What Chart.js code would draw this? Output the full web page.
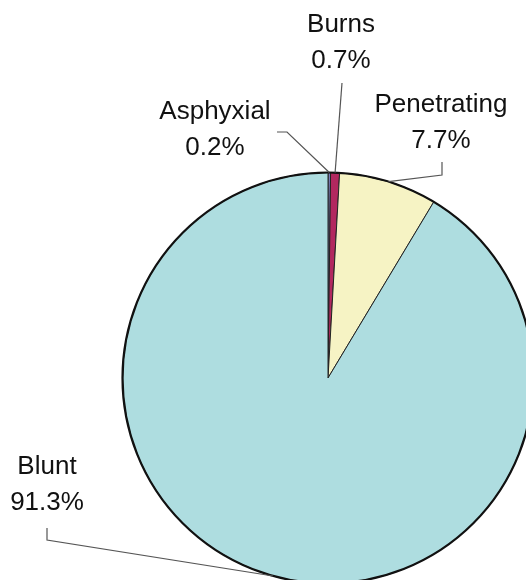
<!DOCTYPE html>
<html>
<head>
<meta charset="utf-8">
<script src="https://cdn.jsdelivr.net/npm/chart.js@4"></script>
<style>
    html, body { margin: 0; padding: 0; background: #fff; overflow: hidden; }
    #wrap { width: 560px; height: 600px; }
</style>
</head>
<body>
<div id="wrap"><canvas id="pie" width="560" height="600"></canvas></div>
<script>
const categories = ["Asphyxial", "Burns", "Penetrating", "Blunt"];
const shares = [0.2, 0.7, 7.7, 91.3];
const valueLabels = ["0.2%", "0.7%", "7.7%", "91.3%"];

const sliceColors = ["#7b7db9", "#b2285f", "#f6f3c4", "#aedde0"];

// where each label sits and where its leader line starts (elbow points)
const labelLayout = [
    { x: 215, y: 112, path: [[277, 132], [287, 132]] },
    { x: 341, y: 25, path: [[342, 83]] },
    { x: 441, y: 105, path: [[442, 162], [442, 175]] },
    { x: 47, y: 467, path: [[47, 528], [47, 540]] },
];

const calloutPlugin = {
    id: "callouts",
    afterDatasetsDraw(chart) {
        const ctx = chart.ctx;
        const arcs = chart.getDatasetMeta(0).data;

        // heavier outline round the whole pie
        const a0 = arcs[0];
        ctx.save();
        ctx.beginPath();
        ctx.arc(a0.x, a0.y, a0.outerRadius, 0, Math.PI * 2);
        ctx.lineWidth = 2.2;
        ctx.strokeStyle = "#111";
        ctx.stroke();

        ctx.font = "26px 'Liberation Sans', Arial, sans-serif";
        ctx.fillStyle = "#111";
        ctx.textAlign = "center";
        ctx.textBaseline = "middle";

        arcs.forEach((arc, i) => {
            const lay = labelLayout[i];
            const mid = (arc.startAngle + arc.endAngle) / 2;
            const ex = arc.x + Math.cos(mid) * arc.outerRadius;
            const ey = arc.y + Math.sin(mid) * arc.outerRadius;

            ctx.beginPath();
            ctx.moveTo(lay.path[0][0], lay.path[0][1]);
            lay.path.slice(1).forEach((p) => ctx.lineTo(p[0], p[1]));
            ctx.lineTo(ex, ey);
            ctx.lineWidth = 1.2;
            ctx.strokeStyle = "#555";
            ctx.stroke();

            ctx.fillText(categories[i], lay.x, lay.y);
            ctx.fillText(valueLabels[i], lay.x, lay.y + 36);
        });
        ctx.restore();
    },
};

new Chart(document.getElementById("pie").getContext("2d"), {
    type: "pie",
    data: {
        labels: categories,
        datasets: [{
            data: shares,
            backgroundColor: sliceColors,
            borderColor: "#222",
            borderWidth: 1,
        }],
    },
    options: {
        responsive: false,
        animation: false,
        layout: { padding: { left: 122, top: 172, right: 26, bottom: 16 } },
        plugins: {
            legend: { display: false },
            tooltip: { enabled: false },
        },
    },
    plugins: [calloutPlugin],
});
</script>
</body>
</html>
